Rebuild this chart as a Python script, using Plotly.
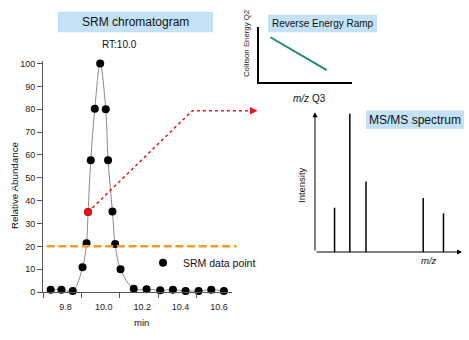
import plotly.graph_objects as go

W, H = 469, 340

# --- SRM chromatogram: retention time (min) and relative abundance (%) ---
rt_min = [9.723, 9.779, 9.838, 9.889, 9.910, 9.918, 9.932, 9.953, 9.981,
          10.010, 10.022, 10.045, 10.059, 10.087, 10.156, 10.223, 10.294,
          10.360, 10.426, 10.494, 10.560, 10.626]
rel_abundance = [1.0, 1.0, 0.5, 10.8, 21.4, 35.0, 57.7, 80.2, 100.0,
                 80.0, 57.7, 35.2, 21.0, 10.0, 1.4, 1.2, 0.8, 1.0, 0.5,
                 0.5, 1.0, 0.5]
highlight_idx = 5            # scan whose MS/MS spectrum is shown
threshold = 20               # trigger level
x_ticks = [9.8, 10.0, 10.2, 10.4, 10.6]
y_ticks = list(range(0, 101, 10))

# --- reverse collision-energy ramp (arbitrary units) ---
ramp_mz = [12, 73]
ramp_ce = [82, 22]

# --- MS/MS spectrum (arbitrary m/z, relative intensity) ---
peak_mz = [13.3, 23.7, 34.7, 73.6, 87.4]
peak_int = [32, 100, 51, 39, 28]

FONT = "Liberation Sans, Arial, sans-serif"
BOX_BLUE = "#C3E2F5"
AXIS_GREY = "#555555"


def px(x):
    return x / W


def py(y):
    return 1 - y / H


# main plot geometry
X_DOM = [px(43), px(232)]
Y_DOM = [py(296), py(59.7)]
X_RANGE = [9.683, 10.668]
Y_RANGE = [0, 101]

fig = go.Figure()

# chromatogram trace
fig.add_trace(go.Scatter(
    x=rt_min, y=rel_abundance, mode="lines",
    line=dict(color="#8a8a8a", width=1, shape="spline"),
    hoverinfo="skip", showlegend=False, xaxis="x", yaxis="y"))

fig.add_trace(go.Scatter(
    x=rt_min, y=rel_abundance, mode="markers", name="SRM data point",
    marker=dict(color="black", size=8), cliponaxis=False,
    xaxis="x", yaxis="y"))

fig.add_trace(go.Scatter(
    x=[rt_min[highlight_idx]], y=[rel_abundance[highlight_idx]],
    mode="markers", marker=dict(color="#E3151B", size=8),
    cliponaxis=False, showlegend=False, xaxis="x", yaxis="y"))

# energy ramp
fig.add_trace(go.Scatter(
    x=ramp_mz, y=ramp_ce, mode="lines",
    line=dict(color="#1E8C72", width=2),
    showlegend=False, xaxis="x2", yaxis="y2"))

# spectrum sticks
stick_x, stick_y = [], []
for m, h in zip(peak_mz, peak_int):
    stick_x += [m, m, None]
    stick_y += [0, h, None]
fig.add_trace(go.Scatter(
    x=stick_x, y=stick_y, mode="lines",
    line=dict(color="black", width=1.5),
    showlegend=False, xaxis="x3", yaxis="y3"))

shapes = []
annotations = []

# threshold line
shapes.append(dict(type="line", xref="paper", yref="y",
                   x0=px(46.7), x1=px(236.7), y0=threshold, y1=threshold,
                   line=dict(color="#F39C2A", width=2.5, dash="8px,3.7px")))

# connector from highlighted scan to the spectrum
hx = X_DOM[0] + (rt_min[highlight_idx] - X_RANGE[0]) / (X_RANGE[1] - X_RANGE[0]) * (X_DOM[1] - X_DOM[0])
hy = Y_DOM[0] + (rel_abundance[highlight_idx] - Y_RANGE[0]) / (Y_RANGE[1] - Y_RANGE[0]) * (Y_DOM[1] - Y_DOM[0])
shapes.append(dict(type="path", xref="paper", yref="paper",
                   path=f"M {hx},{hy} L {px(192.3)},{py(110.3)} L {px(253)},{py(110.3)}",
                   line=dict(color="#E3151B", width=1.5, dash="dot")))
annotations.append(dict(xref="paper", yref="paper", x=px(257.5), y=py(110.3),
                        ax=-6, ay=0, text="", showarrow=True, arrowhead=2,
                        arrowsize=1, arrowwidth=1.5, arrowcolor="#E3151B"))

# spectrum axes with arrowheads
annotations.append(dict(xref="x3", yref="y3", axref="x3", ayref="y3",
                        x=0, y=101, ax=0, ay=0, text="", showarrow=True,
                        arrowhead=2, arrowsize=1, arrowwidth=1, arrowcolor="black"))
annotations.append(dict(xref="x3", yref="y3", axref="x3", ayref="y3",
                        x=100, y=0, ax=0, ay=0, text="", showarrow=True,
                        arrowhead=2, arrowsize=1, arrowwidth=1, arrowcolor="black"))

# title boxes
for (x0, y0, x1, y1, label, size) in [
        (58, 9, 213, 30, "SRM chromatogram", 12),
        (268, 12, 377, 30, "Reverse Energy Ramp", 10),
        (366, 110, 464, 129, "MS/MS spectrum", 12)]:
    shapes.append(dict(type="rect", xref="paper", yref="paper",
                       x0=px(x0), x1=px(x1), y0=py(y1), y1=py(y0),
                       fillcolor=BOX_BLUE, line=dict(width=0), layer="below"))
    annotations.append(dict(xref="paper", yref="paper",
                            x=px((x0 + x1) / 2), y=py((y0 + y1) / 2),
                            text=label, showarrow=False,
                            font=dict(size=size, color="#111111", family=FONT),
                            xanchor="center", yanchor="middle"))


def label(x, y, text, size, angle=0, anchor="center"):
    annotations.append(dict(xref="paper", yref="paper", x=px(x), y=py(y),
                            text=text, showarrow=False, textangle=angle,
                            font=dict(size=size, color="#111111", family=FONT),
                            xanchor=anchor, yanchor="middle"))


label(119, 43, "RT:10.0", 10)
label(14, 186.5, "Relative Abundance", 9.8, angle=-90)
label(141, 327, "min", 9.5)
label(246.5, 41.5, "Collison Energy Q2", 7.8, angle=-90)
label(309.5, 98, "<i>m/z</i> Q3", 10)
label(301.7, 186.7, "Intensity", 9.5, angle=-90)
label(428.5, 264, "<i>m/z</i>", 9.5)

tick_font = dict(size=9, color="#222222", family=FONT)

fig.update_layout(
    width=W, height=H,
    margin=dict(l=0, r=0, t=0, b=0),
    paper_bgcolor="white", plot_bgcolor="rgba(0,0,0,0)",
    font=dict(family=FONT),
    showlegend=True,
    legend=dict(x=px(143), y=py(266), xanchor="left", yanchor="middle",
                bgcolor="rgba(0,0,0,0)", font=dict(size=10.5, color="#111111", family=FONT),
                itemclick=False),
    xaxis=dict(domain=X_DOM, range=X_RANGE, anchor="y",
               tickvals=x_ticks, ticktext=[f"{v:.1f}" for v in x_ticks],
               ticks="", showline=True, linecolor=AXIS_GREY, linewidth=1,
               showgrid=False, zeroline=False, tickfont=tick_font,
               ticklabelstandoff=6,
               minor=dict(tick0=9.683, dtick=0.2, ticks="outside", ticklen=5,
                          tickcolor=AXIS_GREY, showgrid=False)),
    yaxis=dict(domain=Y_DOM, range=Y_RANGE, anchor="x",
               tickvals=y_ticks, ticks="outside", ticklen=5, tickcolor=AXIS_GREY,
               showline=True, linecolor=AXIS_GREY, linewidth=1,
               showgrid=False, zeroline=False, tickfont=tick_font),
    xaxis2=dict(domain=[px(259.3), px(351.7)], range=[0, 100], anchor="y2",
                showline=True, linecolor="black", linewidth=2, ticks="",
                showticklabels=False, showgrid=False, zeroline=False),
    yaxis2=dict(domain=[py(81), py(25)], range=[0, 100], anchor="x2",
                showline=True, linecolor="black", linewidth=2, ticks="",
                showticklabels=False, showgrid=False, zeroline=False),
    xaxis3=dict(domain=[px(315), px(462)], range=[0, 100], anchor="y3",
                showline=False, ticks="", showticklabels=False,
                showgrid=False, zeroline=False),
    yaxis3=dict(domain=[py(255), py(112)], range=[0, 101], anchor="x3",
                showline=False, ticks="", showticklabels=False,
                showgrid=False, zeroline=False),
    shapes=shapes,
    annotations=annotations,
)

fig.write_html("out.html")
